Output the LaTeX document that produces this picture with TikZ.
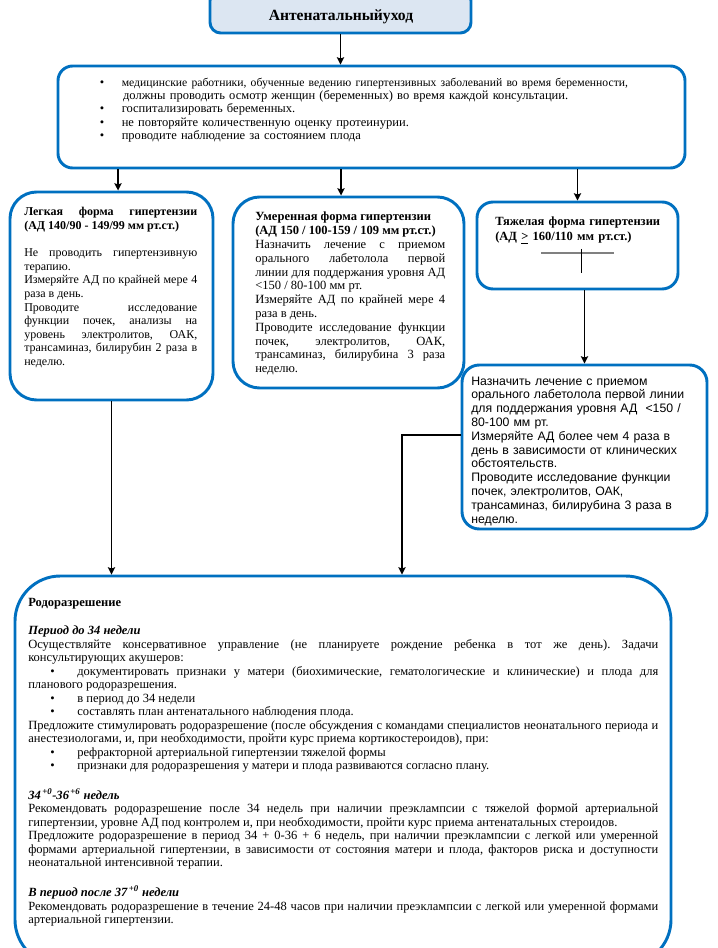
\documentclass[tikz,border=0pt]{standalone}
\usepackage{fontspec}
\setmainfont{Liberation Serif}
\newfontfamily\arialfont{Liberation Sans}
\usetikzlibrary{fit,arrows.meta}
\definecolor{boxblue}{RGB}{0,112,192}
\definecolor{headfill}{RGB}{220,230,242}
\newcommand{\itemdot}{\hspace*{16.5pt}\makebox[20.25pt][l]{•}}
\frenchspacing

\begin{document}
\begin{tikzpicture}[x=0.75pt, y=-0.75pt, >={Stealth[length=5.5pt,width=5.5pt,inset=1pt]},
  box/.style={draw=boxblue, line width=2.2pt, fill=white, inner sep=0pt},
  txt/.style={anchor=base west, inner sep=0pt, align=justify, font=\fontsize{9.4}{10.125}\selectfont},
  arr/.style={->, line width=1pt}]
\useasboundingbox (0,0) rectangle (717,948);

% boxes
\node[box, fill=headfill, rounded corners=8pt, fit={(210,-10) (471,33)}] (care) {};
\node[box, rounded corners=11pt, fit={(58,66) (685,168)}] (bullets) {};
\node[box, rounded corners=20pt, fit={(10,192) (213,400)}] (mild) {};
\node[box, rounded corners=20pt, fit={(233,197) (464,388)}] (moderate) {};
\node[box, rounded corners=12pt, fit={(477,202) (678,289)}] (severe) {};
\node[box, rounded corners=13pt, fit={(462,365) (707,529)}] (treat) {};
\node[box, rounded corners=34pt, fit={(15,576) (671,965)}] (delivery) {};

% texts
\node[anchor=base, font=\bfseries\fontsize{11.7}{13}\selectfont] (careT) at (341,21) {Антенатальныйуход};

\node[txt, align=left, text width=430pt] (bulletsT) at (99.5,87) {%
\makebox[16.5pt][l]{•}{\fontsize{8.75}{10}\selectfont медицинские работники, обученные ведению гипертензивных заболеваний во время беременности,}\\[-0.9pt]
\hspace*{17.5pt}должны проводить осмотр женщин (беременных) во время каждой консультации.\\
\makebox[16.5pt][l]{•}госпитализировать беременных.\\
\makebox[16.5pt][l]{•}не повторяйте количественную оценку протеинурии.\\
\makebox[16.5pt][l]{•}проводите наблюдение за состоянием плода};

\node[txt, text width=129.75pt, font=\fontsize{9}{10.2}\selectfont] (mildT) at (24,216) {%
\textbf{Легкая форма гипертензии\linebreak (АД 140/90 - 149/99 мм рт.ст.)}\par\vspace{10.2pt}
Не проводить гипертензивную\linebreak терапию.\par
Измеряйте АД по крайней мере 4\linebreak раза в день.\par
Проводите исследование\linebreak функции почек, анализы на\linebreak уровень электролитов, ОАК,\linebreak трансаминаз, билирубин 2 раза в\linebreak неделю.};

\node[txt, text width=142.5pt, font=\fontsize{9.4}{10.35}\selectfont] (moderateT) at (255,221) {%
\textbf{Умеренная форма гипертензии\\ (АД 150 / 100-159 / 109 мм рт.ст.)}\par
Назначить лечение с приемом\linebreak орального лабетолола первой\linebreak линии для поддержания уровня АД\linebreak <150 / 80-100 мм рт.\par
Измеряйте АД по крайней мере 4\linebreak раза в день.\par
Проводите исследование функции\linebreak почек, электролитов, ОАК,\linebreak трансаминаз, билирубина 3 раза\linebreak неделю.};

\node[txt, align=left, text width=140pt, font=\bfseries\fontsize{9.4}{11.25}\selectfont] (severeT) at (495,226) {%
Тяжелая форма гипертензии\\ (АД \underline{>} 160/110 мм рт.ст.)};
\draw[gray, line width=0.9pt] (541,253) -- (614,253);
\draw[line width=0.6pt] (581,249) -- (581,273);

\node[txt, align=left, text width=170pt, font=\arialfont\fontsize{9.2}{10.35}\selectfont] (treatT) at (471,385) {%
Назначить лечение с приемом\\ орального лабетолола первой линии\\ для поддержания уровня АД\ \ <150 /\\ 80-100 мм рт.\\ Измеряйте АД более чем 4 раза в\\ день в зависимости от клинических\\ обстоятельств.\\ Проводите исследование функции\\ почек, электролитов, ОАК,\\ трансаминаз, билирубина 3 раза в\\ неделю.};

\node[txt, text width=472.5pt] (deliveryT) at (28,606) {%
\textbf{Родоразрешение}\par\vspace{11.5pt}
\textbf{\textit{Период до 34 недели}}\par
Осуществляйте консервативное управление (не планируете рождение ребенка в тот же день). Задачи\linebreak консультирующих акушеров:\par
\itemdot документировать признаки у матери (биохимические, гематологические и клинические) и плода для\linebreak планового родоразрешения.\par
\itemdot в период до 34 недели\par
\itemdot составлять план антенатального наблюдения плода.\par
Предложите стимулировать родоразрешение (после обсуждения с командами специалистов неонатального периода и\linebreak анестезиологами, и, при необходимости, пройти курс приема кортикостероидов), при:\par
\itemdot рефракторной артериальной гипертензии тяжелой формы\par
\itemdot признаки для родоразрешения у матери и плода развиваются согласно плану.\par\vspace{11pt}
\textbf{\textit{34\textsuperscript{\,+0}-36\textsuperscript{\,+6} недель}}\par
Рекомендовать родоразрешение после 34 недель при наличии преэклампсии с тяжелой формой артериальной\linebreak гипертензии, уровне АД под контролем и, при необходимости, пройти курс приема антенатальных стероидов.\par
Предложите родоразрешение в период 34 + 0-36 + 6 недель, при наличии преэклампсии с легкой или умеренной\linebreak формами артериальной гипертензии, в зависимости от состояния матери и плода, факторов риска и доступности\linebreak неонатальной интенсивной терапии.\par\vspace{11pt}
\textbf{\textit{В период после 37\textsuperscript{\,+0} недели}}\par
Рекомендовать родоразрешение в течение 24-48 часов при наличии преэклампсии с легкой или умеренной формами\linebreak артериальной гипертензии.};

% connectors
\coordinate (bend) at (402,435);
\draw[arr] (care.south) -- (care.south |- bullets.north);
\draw[arr] ([xshift=4.9pt]mild.north |- bullets.south) -- ([xshift=4.9pt]mild.north);
\draw[arr] ([xshift=-5.6pt]moderate.north |- bullets.south) -- ([xshift=-5.6pt]moderate.north);
\draw[arr] (severe.north |- bullets.south) -- (severe.north);
\draw[arr] (severe.south -| treat.north) -- (treat.north);
\draw[arr] (mild.south) -- (mild.south |- delivery.north);
\draw[arr, line width=1.8pt] (treat.west |- bend) -| (delivery.north -| bend);
\end{tikzpicture}
\end{document}
